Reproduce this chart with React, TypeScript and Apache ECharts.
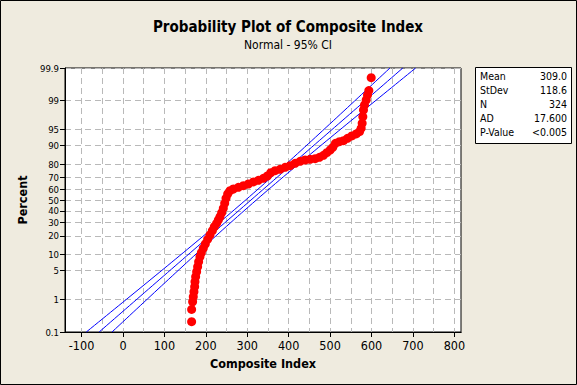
import React, { useEffect, useRef } from "react";
import * as echarts from "echarts";

// Composite Index values (x) and their plotted percent (y)
const compositeIndex = [
  165.7, 165.7, 168.1, 169.7, 171.3, 173.0, 173.8, 175.4, 177.8, 180.2,
  182.6, 185.8, 189.1, 193.9, 198.7, 204.4, 210.0, 215.7, 220.5, 226.1,
  230.2, 234.2, 238.2, 242.2, 245.5, 248.7, 252.7, 258.4, 266.4, 278.5,
  290.6, 302.7, 314.8, 326.8, 338.9, 348.6, 356.7, 367.1, 379.2, 391.3,
  403.4, 415.5, 427.6, 439.6, 451.7, 463.8, 474.3, 484.0, 492.0, 500.1,
  506.5, 513.0, 522.6, 532.3, 542.0, 552.4, 562.9, 571.0, 575.0, 577.4,
  579.0, 580.6, 583.0, 587.1, 590.3, 593.5, 599.2,
];
const percent = [
  0.22, 0.52, 0.86, 1.18, 1.59, 2.12, 2.79, 3.63, 4.67, 5.93,
  7.44, 9.23, 10.88, 12.88, 15.15, 17.85, 20.63, 23.64, 26.63, 29.25,
  31.99, 34.83, 38.36, 42.27, 46.89, 51.56, 55.6, 58.67, 60.18, 61.68,
  63.16, 64.62, 66.35, 67.76, 69.42, 71.3, 73.9, 75.4, 76.36, 77.79,
  78.93, 80.48, 81.75, 82.56, 82.97, 83.35, 84.11, 85.22, 86.63, 87.92,
  89.13, 90.77, 91.4, 91.77, 92.57, 93.31, 93.9, 94.52, 95.33, 96.37,
  97.45, 98.25, 98.7, 99.04, 99.3, 99.48, 99.79,
];

const yTickLabels = ["0.1", "1", "5", "10", "20", "30", "40", "50", "60", "70", "80", "90", "95", "99", "99.9"];
const xTickValues = [-100, 0, 100, 200, 300, 400, 500, 600, 700, 800];
const xGridValues = [-100, -50, 0, 50, 100, 150, 200, 250, 300, 350, 400, 450, 500, 550, 600, 650, 700, 750, 800];
const statLabels = ["Mean", "StDev", "N", "AD", "P-Value"];
const statValues = ["309.0", "118.6", "324", "17.600", "<0.005"];
const MEAN = 309.0;
const STDEV = 118.6;
const N = 324;

const FONT = "'DejaVu Sans Condensed', 'DejaVu Sans', sans-serif";

function probit(p: number): number {
  const a = [-3.969683028665376e1, 2.209460984245205e2, -2.759285104469687e2, 1.38357751867269e2, -3.066479806614716e1, 2.506628277459239];
  const b = [-5.447609879822406e1, 1.615858368580409e2, -1.556989798598866e2, 6.680131188771972e1, -1.328068155288572e1];
  const c = [-7.784894002430293e-3, -3.223964580411365e-1, -2.400758277161838, -2.549732539343734, 4.374664141464968, 2.938163982698783];
  const d = [7.784695709041462e-3, 3.224671290700398e-1, 2.445134137142996, 3.754408661907416];
  const plow = 0.02425;
  const phigh = 1 - plow;
  if (p < plow) {
    const q = Math.sqrt(-2 * Math.log(p));
    return (((((c[0] * q + c[1]) * q + c[2]) * q + c[3]) * q + c[4]) * q + c[5]) / ((((d[0] * q + d[1]) * q + d[2]) * q + d[3]) * q + 1);
  }
  if (p <= phigh) {
    const q = p - 0.5;
    const r = q * q;
    return ((((((a[0] * r + a[1]) * r + a[2]) * r + a[3]) * r + a[4]) * r + a[5]) * q) / (((((b[0] * r + b[1]) * r + b[2]) * r + b[3]) * r + b[4]) * r + 1);
  }
  const q = Math.sqrt(-2 * Math.log(1 - p));
  return -(((((c[0] * q + c[1]) * q + c[2]) * q + c[3]) * q + c[4]) * q + c[5]) / ((((d[0] * q + d[1]) * q + d[2]) * q + d[3]) * q + 1);
}

export default function App() {
  const ref = useRef<HTMLDivElement>(null);
  useEffect(() => {
    if (!ref.current) return;
    const chart = echarts.init(ref.current, undefined, { renderer: "svg" });

    const yTickZ = yTickLabels.map((l) => probit(parseFloat(l) / 100));
    const zMin = yTickZ[0];
    const zMax = yTickZ[yTickZ.length - 1];

    const points = compositeIndex.map((x, i) => [x, probit(percent[i] / 100)]);

    const fit: number[][] = [];
    const lower: number[][] = [];
    const upper: number[][] = [];
    const steps = 80;
    for (let k = 0; k <= steps; k++) {
      const z = zMin + ((zMax - zMin) * k) / steps;
      const c = MEAN + z * STDEV;
      const hw = 1.96 * STDEV * Math.sqrt(1 / N + (z * z) / (2 * N));
      fit.push([c, z]);
      lower.push([c - hw, z]);
      upper.push([c + hw, z]);
    }

    const labelFor = (v: number) => {
      let best = 0;
      let bd = Infinity;
      yTickZ.forEach((z, i) => {
        const d = Math.abs(z - v);
        if (d < bd) {
          bd = d;
          best = i;
        }
      });
      return yTickLabels[best];
    };

    const gridLine = { show: true, lineStyle: { color: "#b9b9b9", type: [6, 4] as any, width: 1 } };

    const statsTexts: any[] = [];
    statLabels.forEach((l, i) => {
      statsTexts.push({
        type: "text",
        style: { text: l, x: 480, y: 76 + i * 14, fill: "#000", font: `10.5px ${FONT}`, textAlign: "left", textVerticalAlign: "middle" },
      });
      statsTexts.push({
        type: "text",
        style: { text: statValues[i], x: 567, y: 76 + i * 14, fill: "#000", font: `10.5px ${FONT}`, textAlign: "right", textVerticalAlign: "middle" },
      });
    });

    chart.setOption({
      animation: false,
      backgroundColor: "#EFEBDF",
      grid: { left: 65, top: 68, width: 396, height: 264, show: true, backgroundColor: "#fff", borderColor: "#000", borderWidth: 1 },
      xAxis: [
        {
          type: "value",
          min: -140,
          max: 816,
          position: "bottom",
          axisLine: { show: true, onZero: false, lineStyle: { color: "#000" } },
          axisTick: { show: false, customValues: xGridValues },
          axisLabel: { show: false },
          splitLine: gridLine,
        },
        {
          type: "value",
          min: -140,
          max: 816,
          position: "bottom",
          offset: 0,
          axisLine: { show: true, onZero: false, lineStyle: { color: "#000" } },
          axisTick: { show: true, length: 5, customValues: xTickValues, lineStyle: { color: "#000" } },
          axisLabel: { show: true, customValues: xTickValues, margin: 7, color: "#000", fontSize: 12.5, fontFamily: FONT },
          splitLine: { show: false },
          name: "Composite Index",
          nameLocation: "middle",
          nameGap: 23,
          nameTextStyle: { color: "#000", fontSize: 12.5, fontWeight: "bold", fontFamily: FONT },
        },
      ],
      yAxis: {
        type: "value",
        min: zMin,
        max: zMax,
        axisLine: { show: true, onZero: false, lineStyle: { color: "#000" } },
        axisTick: { show: true, length: 5, customValues: yTickZ, lineStyle: { color: "#000" } },
        axisLabel: { show: true, customValues: yTickZ, formatter: (v: number) => labelFor(v), margin: 6, color: "#000", fontSize: 9.5, fontFamily: FONT },
        splitLine: gridLine,
        name: "Percent",
        nameLocation: "middle",
        nameGap: 33,
        nameRotate: 90,
        nameTextStyle: { color: "#000", fontSize: 12.5, fontWeight: "bold", fontFamily: FONT },
      },
      series: [
        { type: "line", xAxisIndex: 0, data: lower, showSymbol: false, symbol: "none", lineStyle: { color: "#0000FF", width: 1 }, z: 2 },
        { type: "line", xAxisIndex: 0, data: fit, showSymbol: false, symbol: "none", lineStyle: { color: "#0000FF", width: 1 }, z: 2 },
        { type: "line", xAxisIndex: 0, data: upper, showSymbol: false, symbol: "none", lineStyle: { color: "#0000FF", width: 1 }, z: 2 },
        { type: "scatter", xAxisIndex: 0, data: points, symbol: "circle", symbolSize: 9, itemStyle: { color: "#FF0000", opacity: 1 }, z: 3 },
      ],
      graphic: [
        { type: "text", style: { text: "Probability Plot of Composite Index", x: 288, y: 27, fill: "#000", font: `bold 15px ${FONT}`, textAlign: "center", textVerticalAlign: "middle" } },
        { type: "text", style: { text: "Normal - 95% CI", x: 288, y: 45, fill: "#000", font: `12px ${FONT}`, textAlign: "center", textVerticalAlign: "middle" } },
        { type: "rect", shape: { x: 475.5, y: 67.5, width: 96, height: 76 }, style: { fill: "#fff", stroke: "#000", lineWidth: 1 } },
        ...statsTexts,
        { type: "rect", shape: { x: 0.5, y: 0.5, width: 576, height: 384 }, style: { fill: "none", stroke: "#000", lineWidth: 1 }, z: 100 },
      ],
    });
    return () => chart.dispose();
  }, []);
  return <div ref={ref} style={{ position: "fixed", left: 0, top: 0, width: 577, height: 385 }} />;
}
